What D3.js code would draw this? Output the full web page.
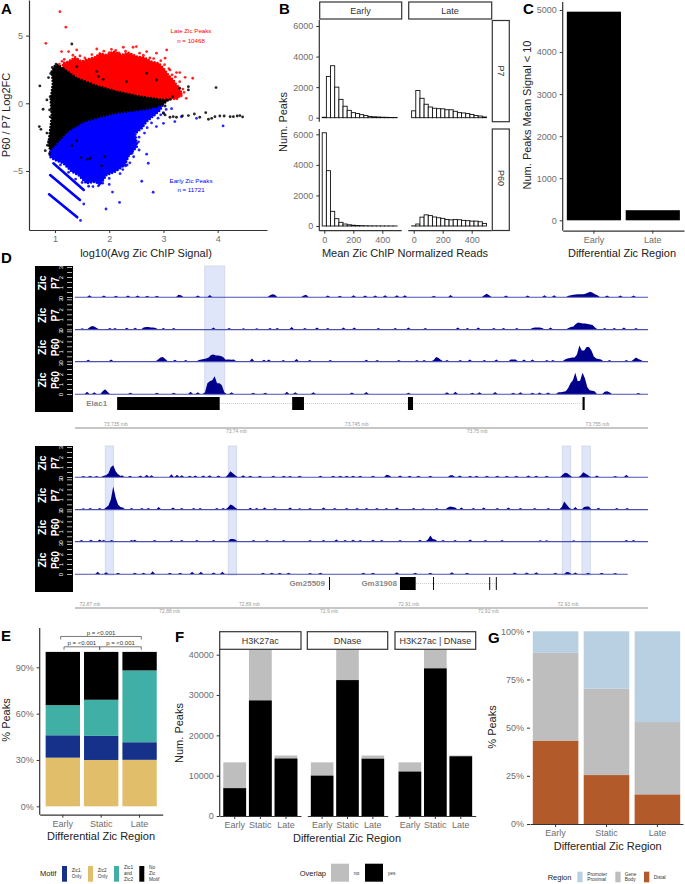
<!DOCTYPE html>
<html>
<head>
<meta charset="utf-8">
<script src="https://cdn.jsdelivr.net/npm/d3@7"></script>
<style>
  html, body { margin: 0; padding: 0; background: #fff; }
  svg { display: block; font-family: "Liberation Sans", Arial, sans-serif; }
</style>
</head>
<body>
<div id="figure"></div>
<script>
// ---- panel A: the dense cloud is kept as outlines, plus the stray points
let redCloud = [[1.14,2.59],[1.15,2.96],[1.25,3.08],[1.37,3.4],[1.49,3.08],[1.6,3.25],[1.74,3.4],[1.83,3.69],[1.95,3.57],[2.08,3.82],[2.23,3.57],[2.35,3.74],[2.51,3.45],[2.63,3.4],[2.78,3.08],[2.91,2.96],[3,2.59],[3.09,2.09],[3.18,1.72],[3.27,1.18],[3.34,0.74],[3.27,0.37],[3.15,0.3],[3,0.25],[2.57,0.49],[2.14,0.86],[1.77,1.28],[1.4,1.85]];
let blackCloud = [[1.14,2.59],[1.06,2.83],[1,2.78],[0.94,2.34],[0.96,1.48],[0.92,0.25],[0.94,-0.99],[0.91,-1.97],[0.88,-2.96],[0.91,-3.45],[0.97,-3.2],[1.22,-2.09],[1.52,-1.35],[1.83,-0.99],[2.14,-0.69],[2.44,-0.54],[2.75,-0.37],[3,-0.05],[3.09,0.25],[3,0.25],[2.57,0.49],[2.14,0.86],[1.77,1.28],[1.4,1.85]];
let blueCloud = [[0.91,-3.57],[0.9,-3.94],[1,-4.19],[1.15,-4.43],[1.31,-5.05],[1.43,-5.3],[1.58,-5.91],[1.74,-5.79],[1.83,-6.03],[1.95,-5.3],[2.11,-5.05],[2.29,-4.56],[2.35,-3.94],[2.51,-3.2],[2.48,-2.22],[2.6,-1.85],[2.69,-1.35],[2.84,-0.86],[2.94,-0.49],[3,-0.05],[2.75,-0.37],[2.44,-0.54],[2.14,-0.69],[1.83,-0.99],[1.52,-1.35],[1.22,-2.09],[0.97,-3.2]];
let blueStreaks = [[[0.97,-4.43],[1.53,-6.4]],[[0.91,-5.3],[1.46,-7.14]],[[0.89,-6.72],[1.41,-8.42]]];
let redPoints = [[1.09,6.77],[1.2,5.62],[0.83,4.43],[2.26,4.14],[2.44,4.14],[2.5,4.19],[2.04,3.99],[3.06,3.94],[1.4,3.94],[1.12,3.82],[1.25,3.82],[1.77,4.01],[2.69,3.82],[2.87,3.7],[3.03,3.33],[3.24,2.27],[3.3,2.27],[3.54,1.85],[3.4,1.92],[3.27,1.23],[3.42,0.37],[3.24,0.37],[3.21,0.74],[3.12,2.46],[3.06,1.97],[1.17,3.25],[1.33,3.55],[1.46,3.5],[1.55,3.35],[1.68,3.6],[1.9,3.85],[2,3.75],[2.12,3.9],[2.18,3.72],[2.3,3.85],[2.4,3.6],[2.56,3.7],[2.63,3.55],[2.75,3.35],[2.82,3.3],[2.95,3.15],[3.02,2.85],[3.1,2.55],[3.16,2.1],[3.22,1.95],[3.3,1.6],[3.36,1.05],[3.38,0.8],[3.33,0.55],[3.18,0.45],[1.08,2.9],[1.13,3.1]];
let bluePoints = [[4.1,-1.67],[3.61,-1.11],[3.33,-0.99],[3.21,-1.35],[3,-1.48],[2.87,-1.72],[2.69,-3.76],[2.72,-4.43],[2.6,-5.76],[2.81,-6.57],[2.19,-7.32],[2.06,-6.56],[1.94,-7.81],[1.53,-7.44],[1.47,-8.65],[2,-5.99],[1.83,-5.79],[1.8,-6.1],[1.62,-6.13],[2.51,-2.96],[2.54,-2.85],[2.42,-3.69],[2.33,-4.56],[2.3,-4.63],[2.16,-3.94],[1.7,-6.15],[1.88,-5.9],[2,-5.55],[2.2,-5.2],[2.25,-4.9],[2.38,-4.4],[2.45,-3.95],[2.55,-3.45],[2.55,-2.5],[2.65,-2.2],[2.7,-1.8],[2.78,-1.45],[2.9,-1.1],[3,-0.7],[3.05,-0.45],[3.15,-0.4],[2.95,-0.85],[1.38,-5.6],[1.5,-5.85],[1.25,-5.1],[1.1,-4.55]];
let blackPoints = [[0.72,1.28],[0.78,-0.44],[0.71,-1.72],[0.74,-1.92],[0.82,-3.5],[0.85,0.25],[0.91,0.49],[0.9,-0.49],[0.91,-1],[0.85,-2.2],[0.88,-2.83],[0.91,-3.2],[0.86,-3.1],[0.9,-3.7],[0.92,2.2],[0.88,1.9],[0.95,2.65],[1.02,2.9],[1.31,4.38],[3.03,-0.86],[3.12,-1.03],[3.18,-0.99],[3.24,-1.03],[3.35,-0.94],[3.46,-0.91],[3.57,-0.79],[3.67,-1.03],[3.78,-0.69],[3.83,-1.18],[3.89,-1.11],[3.95,-0.99],[4.04,-0.94],[4.12,-0.94],[4.23,-0.99],[4.29,-0.99],[4.36,-0.94],[4.41,-0.91],[4.46,-1.01],[3.97,1.16],[3.46,1.23],[3.46,0.99],[3.3,1.11],[3.17,0.49],[3.12,0.3],[3.03,-0.2],[2.87,-0.25],[3,-0.74],[1.8,1.97],[1.89,1.77],[2.32,1.6],[2.69,2.22],[2.87,1.72],[1.4,2.71],[1.77,2.34],[1.31,-3.13],[1.4,-2.76],[1.48,-4.01],[1.65,-4.06],[1.86,-4.63],[1.92,-3.94],[1.6,-4.14]];

// ---- panel B: histogram counts, one per bin
let histBinWidth = 28.7;
let earlyP7 = [30,2700,3400,2000,1200,750,480,330,270,200,140,80,60,45,30,25,15,10];
let lateP7 = [450,1780,1270,880,700,620,590,580,520,520,420,330,310,270,210,140,110,50];
let earlyP60 = [6100,3620,960,480,240,130,80,50,35,25,15,10,8,6,5,4,3,2];
let lateP60 = [10,130,580,730,680,590,540,500,430,400,430,410,370,350,320,320,280,170];

// ---- panel C
let lowSignalRegions = ["Early", "Late"];
let lowSignalPeaks = [4960, 240];

// ---- panel D: signal segments are [start kb, height, height, ...], one height per bin
let topBinKb = 0.1;
let topStartMb = 73.7333;
let topEndMb = 73.7571;
let topTicks = [73.735, 73.74, 73.745, 73.75, 73.755];
let topHighlights = [[73.73869, 73.73952]];
let topTrack1 = [[0.6,.1],[1.2,.08],[1.7,.05],[2.2,.07],[2.6,.08],[3,.05],[3.4,.05],[4.3,.15,.1],[5.1,.07],[5.6,.12],[8.1,.1,.2,.15],[9.5,.08,.15],[10.5,.07],[11,.05],[11.57,.1],[12.05,.08],[12.47,.07],[12.88,.1],[13.37,.1],[13.7,.1],[14.9,.05],[15.6,.12],[17,.1,.25,.1],[17.9,.08],[18.8,.07],[19.5,.1],[19.9,.1],[20.5,.05,.1,.15,.18,.2,.2,.2,.25,.35,.45,.35,.2,.1],[22.1,.08],[22.65,.08],[23.2,.07]];
let topTrack2 = [[0.3,.03],[0.6,.1,.25,.2,.05],[1.45,.07],[1.66,.05],[2.15,.08],[2.5,.08],[2.85,.1,.15,.15,.1,.1,.05],[3.67,.05],[4.1,.05],[5.75,.1],[6.4,.06],[7,.04],[7.55,.04],[8.1,.06],[8.4,.06],[9,.15],[9.55,.07],[10.05,.12],[10.5,.05],[11.15,.1],[11.6,.1],[12.6,.05],[13.3,.05],[13.85,.1],[14.55,.05],[15.9,.1],[16.3,.05],[16.75,.1],[17.4,.05],[17.8,.07],[18.35,.05],[19,.05,.1,.12,.1,.05],[19.75,.1],[20.5,.05,.15,.2,.45,.6,.55,.5,.5,.45,.4,.35,.1],[22,.06],[22.4,.06],[22.8,.1],[23.3,.05]];
let topTrack3 = [[0.55,.08],[1.5,.12],[3.45,.1,.3,.35,.15],[4.15,.08],[4.6,.05],[5.15,.05,.1,.15,.2,.3,.55,.6,.5,.5,.45,.35,.1],[6.3,.1,.1,.08,.1],[7.35,.2],[7.85,.08],[8.05,.1],[8.65,.05],[9.2,.15],[9.75,.05],[10.6,.05],[12.1,.08],[12.55,.05],[13.45,.05],[14.2,.05],[14.5,.05],[14.9,.05,.35,.25,.05],[15.45,.05],[16,.05],[16.4,.1],[17,.05],[17.5,.1],[18.1,.1,.12,.1],[18.65,.1],[19,.1],[19.6,.07],[19.85,.07],[20.35,.1,.2,.25,.3,.3,.6,1.5,1,1,1.35,1.35,1,.4,.2,.15,.1],[22.2,.06],[22.9,.05],[23.2,.1,.3,.15,.05]];
let topTrack4 = [[0.5,.15],[0.8,.1],[1.15,.2,.4,.15],[2.3,.06],[3.4,.06],[4.1,.05],[4.8,.15],[5.1,.1],[5.4,.1,1,1.2,1.3,1.7,1,1,.8,.1],[6.2,.06],[6.5,.1],[7.4,.05],[7.9,.06],[8.8,.15],[9.15,.1],[9.9,.1],[11.5,.08],[12.1,.12],[13.85,.05],[15.45,.1],[15.8,.15],[16.5,.06],[16.8,.1],[17.45,.12],[18.2,.05],[18.5,.1],[19,.06],[19.3,.08],[19.65,.07],[20.08,.1,.1,.15,.2,.5,1,1.3,2.05,1.2,1.25,2.05,1.5,.6,.3,.25,.2],[22,.15,.2,.1],[23.4,.04]];

let bottomBinKb = 0.3;
let bottomStartMb = 72.86812;
let bottomEndMb = 72.94004;
let bottomTicks = [72.87, 72.88, 72.89, 72.9, 72.91, 72.92, 72.93];
let bottomHighlights = [[72.87192, 72.87297], [72.88736, 72.88841], [72.92928, 72.93034], [72.93175, 72.9328]];
let bottomTrack1 = [[1.05,.04],[1.9,.05],[2.7,.04],[3.6,.05,.1,.3,.9,1.1,.5,.2,.05],[5.9,.1],[6.9,.05],[8.2,.08],[9,.15],[9.6,.1],[12.1,.2],[12.8,.15],[13.4,.1],[14.4,.06],[15.1,.08],[16.1,.08],[16.9,.1],[18,.08],[19.2,.15,.5,.3,.1],[21.1,.1],[22,.05],[23.2,.06],[24.9,.05],[26.2,.05],[27,.04],[28.2,.05],[30.8,.06],[32.4,.05],[33.3,.05],[34.1,.05],[34.9,.05],[35.8,.05],[37.4,.05],[39.1,.15,.1],[40.8,.08],[42,.05],[43.1,.06],[44.6,.05],[47.1,.1,.1],[48.3,.08],[49.6,.05],[50.4,.05],[51.7,.06],[53,.05],[54.2,.05],[55.4,.05],[56.9,.08],[57.9,.05],[59.2,.05],[61.2,.15,.35,.3,.1],[63.5,.1,.4,.25,.1],[65.5,.08],[67.8,.04],[69.2,.15]];
let bottomTrack2 = [[1.05,.04],[1.9,.05],[3.1,.05],[3.9,.1,.3,.9,2.2,1.1,.4,.15,.1],[5.9,.12],[7.1,.06],[8.4,.05],[9.2,.07],[10.5,.15],[12.3,.12],[13.4,.05],[14.9,.05],[15.7,.05],[17.8,.05],[18.6,.06],[19.2,.1,.4,.3,.1],[22,.08],[22.8,.06],[23.8,.1],[25.1,.06],[27,.1],[28.2,.04],[29.5,.05],[31.2,.1],[32.6,.05],[34.1,.05],[35.4,.05],[36.6,.05],[37.9,.06],[39.1,.06],[40.4,.1],[42.5,.05],[43.7,.04],[45.4,.05],[46.8,.1,.2,.15,.1],[48.5,.1],[50,.06],[51.3,.1],[53,.07],[54.4,.1],[55.9,.05],[57.7,.06],[59.4,.05],[61.1,.15,.7,.4,.1],[62.8,.15],[63.9,.15,.2,.2],[65.7,.08],[68,.05],[69.3,.06]];
let bottomTrack3 = [[.8,.05],[2,.08],[3.1,.1],[3.6,.05],[4.6,.05],[7.1,.07],[7.5,.08],[10,.05],[12.1,.05],[13.4,.05],[15.3,.05],[17.4,.05],[19.5,.15,.15,.1],[22.4,.05],[24.1,.05],[26.2,.05],[29.5,.07],[31.2,.06],[32.8,.1],[33.9,.05],[34.9,.08],[35.8,.06],[37.4,.08],[38.5,.05],[40.8,.05],[43.3,.08],[44.3,.1,.5,.15,.1],[46.2,.06],[47.7,.05],[49.6,.1],[51.5,.07],[53.6,.07],[58.4,.04],[59.2,.04],[62.6,.04],[69.2,.07],[70.1,.05]];
let bottomTrack4 = [[2.85,.15],[3.9,.1],[5.4,.06],[7.5,.06],[8.6,.05],[9.75,.2],[11.9,.05],[13.2,.05],[14.7,.15],[15.8,.15],[17.4,.08],[18.5,.15],[23.6,.05],[24.7,.05],[25.7,.06],[26.8,.05],[29.5,.04],[30.8,.05],[36.2,.06],[37.4,.06],[40.4,.1],[42.7,.06],[44.6,.05],[47.3,.1],[49.2,.06],[55.2,.08],[56.7,.08],[57.9,.1],[60.3,.05],[61.7,.12,.1],[62.8,.07],[64.4,.05],[66.1,.05],[67.8,.04]];

let trackNames = ["P7", "P7", "P60", "P60"];
let topTracks = [topTrack1, topTrack2, topTrack3, topTrack4];
let bottomTracks = [bottomTrack1, bottomTrack2, bottomTrack3, bottomTrack4];
let bottomTrackEnds = [72.94004, 72.94004, 72.94004, 72.93749];

let elac1Exons = [[73.73505,73.73931],[73.74232,73.74281],[73.74713,73.74734],[73.75438,73.75447]];
let gm25509Exons = [[72.9,72.90012]];
let gm31908Exons = [[72.90891,72.91088],[72.91306,72.91318],[72.92011,72.92023],[72.92094,72.92106]];

// ---- panel E
let regions = ["Early", "Static", "Late"];
let motifKeys = ["Zic2 Only", "Zic1 Only", "Zic1 and Zic2", "No Zic Motif"];
let zic2Only = [31.5, 30, 30.1];
let zic1Only = [14.5, 15.6, 11.4];
let zicBoth = [19.5, 23.4, 46.5];
let noMotif = [34.5, 31, 12];

// ---- panel F
let overlapMarks = ["H3K27ac", "DNase", "H3K27ac | DNase"];
let peaksTotal = [13300, 41300, 15000];
let h3k27acYes = [6900, 28650, 14250];
let dnaseYes = [10000, 33700, 14200];
let eitherYes = [11000, 36600, 14800];

// ---- panel G
let genomicKeys = ["Distal", "Gene Body", "Promoter Proximal"];
let distal = [43.3, 25.4, 15.4];
let geneBody = [45.5, 44.8, 37.5];
let promoter = [11.2, 29.8, 47.1];

let width = 685;
let height = 884;
let axisColor = "#333";
let tickColor = "#6e6e6e";
let titleColor = "#222";
let plainNumber = d3.format("d");

let svg = d3
  .select("#figure")
  .append("svg")
  .attr("width", width)
  .attr("height", height);

function label(parent, x, y, str, size, fill, anchor) {
  return parent
    .append("text")
    .attr("x", x)
    .attr("y", y)
    .attr("dy", "0.35em")
    .attr("text-anchor", anchor || "middle")
    .attr("font-size", size)
    .attr("fill", fill)
    .text(str);
}

function rotatedLabel(x, y, str, size, angle) {
  return svg
    .append("text")
    .attr("transform", `translate(${x},${y}) rotate(${angle})`)
    .attr("dy", "0.35em")
    .attr("text-anchor", "middle")
    .attr("font-size", size)
    .attr("fill", titleColor)
    .text(str);
}

function panelLetter(x, y, str) {
  label(svg, x, y, str, 15, "#000", "start").attr("font-weight", "bold");
}

// draws an axis with the ggplot classic look
function addAxis(axis, tx, ty) {
  let g = svg.append("g").attr("transform", `translate(${tx},${ty})`).call(axis);
  g.selectAll("text").attr("font-size", 9).attr("fill", tickColor);
  g.selectAll("line").attr("stroke", axisColor);
  g.select(".domain").attr("stroke", axisColor).attr("stroke-width", 1.2);
  return g;
}

function stripBox(x0, y0, x1, y1) {
  svg
    .append("rect")
    .attr("x", x0)
    .attr("y", y0)
    .attr("width", x1 - x0)
    .attr("height", y1 - y0)
    .attr("fill", "#fff")
    .attr("stroke", axisColor)
    .attr("stroke-width", 1.2);
}

// ---------- A ----------
let xA = d3.scaleLinear().domain([0.52, 4.91]).range([29, 267]);
let yA = d3.scaleLinear().domain([-9.36, 7.63]).range([230, 0]);
let cloudLine = d3.line().x(d => xA(d[0])).y(d => yA(d[1])).curve(d3.curveLinearClosed);

// the dotted stroke roughens the edge of each cloud so it reads as points
[[redCloud, "#ff0000"], [blueCloud, "#0000ff"], [blackCloud, "#000"]].forEach(c => {
  svg
    .append("path")
    .attr("d", cloudLine(c[0]))
    .attr("fill", c[1])
    .attr("stroke", c[1])
    .attr("stroke-width", 2.6)
    .attr("stroke-linecap", "round")
    .attr("stroke-dasharray", "0 3.1");
});

svg
  .selectAll(".streak")
  .data(blueStreaks)
  .join("line")
  .attr("x1", d => xA(d[0][0]))
  .attr("y1", d => yA(d[0][1]))
  .attr("x2", d => xA(d[1][0]))
  .attr("y2", d => yA(d[1][1]))
  .attr("stroke", "#0000ff")
  .attr("stroke-width", 2.6)
  .attr("stroke-linecap", "round");

[[redPoints, "#ff0000"], [bluePoints, "#0000ff"], [blackPoints, "#000"]].forEach(s => {
  svg
    .append("g")
    .selectAll("circle")
    .data(s[0])
    .join("circle")
    .attr("cx", d => xA(d[0]))
    .attr("cy", d => yA(d[1]))
    .attr("r", 1.4)
    .attr("fill", s[1])
    .attr("fill-opacity", 0.85);
});

addAxis(d3.axisLeft(yA).tickValues([-5, 0, 5]).tickSize(3).tickSizeOuter(0), 29, 0);
addAxis(d3.axisBottom(xA).tickValues([1, 2, 3, 4]).tickSize(3).tickSizeOuter(0).tickFormat(plainNumber), 0, 230);
label(svg, 146, 253, "log10(Avg Zic ChIP Signal)", 11, titleColor);
rotatedLabel(6, 115, "P60 / P7 Log2FC", 11, -90);
label(svg, 191, 31, "Late Zic Peaks", 6.2, "#ff0000");
label(svg, 191, 41, "n = 10468", 6.2, "#ff0000");
label(svg, 191, 181, "Early Zic Peaks", 6.2, "#0000ff");
label(svg, 191, 190, "n = 11721", 6.2, "#0000ff");
panelLetter(1, 9, "A");

// ---------- B ----------
let xEarly = d3.scaleLinear().domain([0, 400]).range([324.3, 382.3]);
let xLate = d3.scaleLinear().domain([0, 400]).range([413.7, 471.7]);
let yTop = d3.scaleLinear().domain([0, 6000]).range([117.7, 26]);
let yBottom = d3.scaleLinear().domain([0, 6000]).range([226, 134.3]);

function histogram(counts, x, y) {
  svg
    .append("g")
    .selectAll("rect")
    .data(counts)
    .join("rect")
    .attr("x", (d, i) => x((i - 0.5) * histBinWidth))
    .attr("width", x(histBinWidth) - x(0))
    .attr("y", d => y(d))
    .attr("height", d => y(0) - y(d))
    .attr("fill", "#fff")
    .attr("stroke", "#111")
    .attr("stroke-width", 0.9);
}
histogram(earlyP7, xEarly, yTop);
histogram(lateP7, xLate, yTop);
histogram(earlyP60, xEarly, yBottom);
histogram(lateP60, xLate, yBottom);

let histTicks = [0, 2000, 4000, 6000];
addAxis(d3.axisLeft(yTop).tickValues(histTicks).tickSize(3).tickSizeOuter(0).tickFormat(plainNumber), 319.3, 0)
  .select(".domain").attr("d", "M0,20V121.7");
addAxis(d3.axisLeft(yBottom).tickValues(histTicks).tickSize(3).tickSizeOuter(0).tickFormat(plainNumber), 319.3, 0)
  .select(".domain").attr("d", "M0,129V230.7");
addAxis(d3.axisBottom(xEarly).tickValues([0, 200, 400]).tickSize(3).tickSizeOuter(0), 0, 230.7)
  .select(".domain").attr("d", "M319.3,0H401.7");
addAxis(d3.axisBottom(xLate).tickValues([0, 200, 400]).tickSize(3).tickSizeOuter(0), 0, 230.7)
  .select(".domain").attr("d", "M408.3,0H491.7");

stripBox(319.7, 2, 401.7, 19);
stripBox(408.7, 2, 491.7, 19);
stripBox(492.3, 20.5, 509.3, 121.7);
stripBox(492.3, 129, 509.3, 230.5);
label(svg, 360.5, 11, "Early", 9, "#333");
label(svg, 450, 11, "Late", 9, "#333");
svg.append("text").attr("transform", "translate(501,71) rotate(90)").attr("dy", "0.35em").attr("text-anchor", "middle").attr("font-size", 9).attr("fill", "#333").text("P7");
svg.append("text").attr("transform", "translate(501,178) rotate(90)").attr("dy", "0.35em").attr("text-anchor", "middle").attr("font-size", 9).attr("fill", "#333").text("P60");
rotatedLabel(283.5, 122, "Num. Peaks", 11, -90);
label(svg, 405, 253, "Mean Zic ChIP Normalized Reads", 11, titleColor);
panelLetter(279, 9, "B");

// ---------- C ----------
let xC = d3.scaleBand().domain(lowSignalRegions).range([562.7, 684]).paddingInner(0.08).paddingOuter(0.07);
let yC = d3.scaleLinear().domain([0, 5000]).range([220.3, 10]);
svg
  .append("g")
  .selectAll("rect")
  .data(lowSignalPeaks)
  .join("rect")
  .attr("x", (d, i) => xC(lowSignalRegions[i]))
  .attr("width", xC.bandwidth())
  .attr("y", d => yC(d))
  .attr("height", d => yC(0) - yC(d))
  .attr("fill", "#000");
addAxis(d3.axisLeft(yC).tickValues([0, 1000, 2000, 3000, 4000, 5000]).tickSize(3).tickSizeOuter(0).tickFormat(plainNumber), 562.7, 0)
  .select(".domain").attr("d", "M0,2V230.7");
addAxis(d3.axisBottom(xC).tickSize(3).tickSizeOuter(0), 0, 230.7);
rotatedLabel(527, 115, "Num. Peaks Mean Signal < 10", 11, -90);
label(svg, 622, 253, "Differential Zic Region", 11, titleColor);
panelLetter(523, 9, "C");

// ---------- D ----------
function segmentPoints(segments, binKb) {
  let pts = [];
  segments.forEach(seg => {
    pts.push([seg[0] - binKb, 0]);
    seg.slice(1).forEach((h, i) => pts.push([seg[0] + i * binKb, h]));
    pts.push([seg[0] + (seg.length - 1) * binKb, 0]);
  });
  return pts;
}

function drawBrowser(cfg) {
  let x = d3.scaleLinear().domain([cfg.startMb, cfg.endMb]).range([75, 648]);
  let baselines = cfg.baselines;

  // black label column
  svg
    .append("rect")
    .attr("x", 35)
    .attr("y", baselines[0] - 31)
    .attr("width", 38)
    .attr("height", baselines[3] - baselines[0] + 49)
    .attr("fill", "#000");

  svg
    .append("g")
    .selectAll("rect")
    .data(cfg.highlights)
    .join("rect")
    .attr("x", d => x(d[0]))
    .attr("width", d => x(d[1]) - x(d[0]))
    .attr("y", baselines[0] - 31)
    .attr("height", baselines[3] - baselines[0] + 32)
    .attr("fill", "#e0e6f9")
    .attr("stroke", "#cfd5e6")
    .attr("stroke-width", 0.8);

  cfg.tracks.forEach((segments, t) => {
    let y = d3.scaleLinear().domain([0, 3]).range([baselines[t], baselines[t] - 30]);
    // small blips would vanish into the baseline, so lift them slightly
    let area = d3.area()
      .x(d => x(cfg.startMb + d[0] / 1000))
      .y0(y(0))
      .y1(d => y(d[1] > 0 ? d[1] + 0.07 : 0));
    svg.append("path").attr("d", area(segmentPoints(segments, cfg.binKb))).attr("fill", "#00008b");
    svg
      .append("line")
      .attr("x1", x(cfg.startMb))
      .attr("x2", x(cfg.trackEnds[t]))
      .attr("y1", y(0) + 0.3)
      .attr("y2", y(0) + 0.3)
      .attr("stroke", "#4b4fb5")
      .attr("stroke-width", 1.1);

    let axis = d3.axisLeft(y)
      .tickValues([0, 0.5, 1, 1.5, 2, 2.5, 3])
      .tickSize(5)
      .tickSizeOuter(0)
      .tickFormat(d => (Number.isInteger(d) ? d : ""));
    let g = svg.append("g").attr("transform", "translate(72,0)").call(axis);
    g.select(".domain").remove();
    g.selectAll("line").attr("stroke", "#ddd").attr("stroke-width", 0.8);
    g.selectAll("text")
      .attr("x", 0)
      .attr("dy", 0)
      .attr("text-anchor", "middle")
      .attr("font-size", 6)
      .attr("fill", "#fff")
      .attr("transform", "translate(-9,0) rotate(-90)");

    svg.append("text").attr("transform", `translate(42,${baselines[t] - 14}) rotate(-90)`)
      .attr("dy", "0.35em").attr("text-anchor", "middle").attr("font-size", 10.5)
      .attr("font-weight", "bold").attr("fill", "#fff").text("Zic");
    svg.append("text").attr("transform", `translate(55,${baselines[t] - 14}) rotate(-90)`)
      .attr("dy", "0.35em").attr("text-anchor", "middle").attr("font-size", 10)
      .attr("font-weight", "bold").attr("fill", "#fff").text(trackNames[t]);
  });

  // genes
  let geneY = baselines[3] + 3;
  cfg.genes.forEach(gene => {
    let first = gene.exons[0][0];
    let last = gene.exons[gene.exons.length - 1][1];
    svg.append("line").attr("x1", x(first)).attr("x2", x(last))
      .attr("y1", geneY + 6.5).attr("y2", geneY + 6.5)
      .attr("stroke", "#aaa").attr("stroke-width", 0.6).attr("stroke-dasharray", "1,1");
    svg.append("g").selectAll("rect").data(gene.exons).join("rect")
      .attr("x", d => x(d[0]))
      .attr("width", d => x(d[1]) - x(d[0]))
      .attr("y", geneY)
      .attr("height", 13)
      .attr("fill", "#000");
    label(svg, x(first) - gene.gap, geneY + 6.5, gene.name, 8, "#888", "end").attr("font-weight", "bold");
  });

  // genome axis
  svg.append("line").attr("x1", 75).attr("x2", 648)
    .attr("y1", cfg.axisY).attr("y2", cfg.axisY)
    .attr("stroke", "#b3b3b3").attr("stroke-width", 1.6);
  cfg.ticks.forEach((t, i) => {
    label(svg, x(t), cfg.axisY + (i % 2 ? 3.7 : -3.7), t + " mb", 5, "#999");
  });
}

drawBrowser({
  startMb: topStartMb,
  endMb: topEndMb,
  binKb: topBinKb,
  tracks: topTracks,
  trackEnds: [topEndMb, topEndMb, topEndMb, topEndMb],
  highlights: topHighlights,
  baselines: [297, 329.3, 361.3, 394],
  ticks: topTicks,
  axisY: 428,
  genes: [{ name: "Elac1", exons: elac1Exons, gap: 10 }]
});
drawBrowser({
  startMb: bottomStartMb,
  endMb: bottomEndMb,
  binKb: bottomBinKb,
  tracks: bottomTracks,
  trackEnds: bottomTrackEnds,
  highlights: bottomHighlights,
  baselines: [477, 509.3, 541.3, 574],
  ticks: bottomTicks,
  axisY: 608,
  genes: [{ name: "Gm25509", exons: gm25509Exons, gap: 4 }, { name: "Gm31908", exons: gm31908Exons, gap: 3 }]
});
panelLetter(1, 258, "D");

// ---------- E ----------
let motifColors = ["#e1be6a", "#15318a", "#40b0a6", "#000"];
let motifTable = regions.map((r, i) => ({
  region: r,
  "Zic2 Only": zic2Only[i],
  "Zic1 Only": zic1Only[i],
  "Zic1 and Zic2": zicBoth[i],
  "No Zic Motif": noMotif[i]
}));
let xE = d3.scaleBand().domain(regions).range([39.7, 162.7]).paddingInner(0.105).paddingOuter(0.155);
let yE = d3.scaleLinear().domain([0, 100]).range([806.3, 651.9]);

svg
  .append("g")
  .selectAll("g")
  .data(d3.stack().keys(motifKeys)(motifTable))
  .join("g")
  .attr("fill", (d, i) => motifColors[i])
  .selectAll("rect")
  .data(d => d)
  .join("rect")
  .attr("x", d => xE(d.data.region))
  .attr("width", xE.bandwidth())
  .attr("y", d => yE(d[1]))
  .attr("height", d => yE(d[0]) - yE(d[1]));

let pct = d => d + "%";
addAxis(d3.axisLeft(yE).tickValues([0, 30, 60, 90]).tickSize(3).tickSizeOuter(0).tickFormat(pct), 39.7, 0)
  .select(".domain").attr("d", "M0,628V814.7");
addAxis(d3.axisBottom(xE).tickSize(3).tickSizeOuter(0), 0, 814.7);
rotatedLabel(6, 720, "% Peaks", 11, -90);
label(svg, 101, 836, "Differential Zic Region", 11, titleColor);

// significance brackets, placed in the panel's own units
function bracket(x0, x1, level, str) {
  let top = yE(level);
  svg.append("path")
    .attr("d", `M${x0},${top + 3}V${top}H${x1}V${top + 3}`)
    .attr("fill", "none")
    .attr("stroke", "#555")
    .attr("stroke-width", 0.8);
  label(svg, (x0 + x1) / 2, top - 4, str, 6, "#333");
}
bracket(60.7, 141.3, 110, "p = <0.001");
bracket(64, 99.7, 103.3, "p = <0.001");
bracket(99.7, 141.3, 103.3, "p = <0.001");

label(svg, 40, 873, "Motif", 7.5, "#222", "start");
[
  [62, motifColors[1], ["Zic1", "Only"], 71.7],
  [88, motifColors[0], ["Zic2", "Only"], 97.7],
  [114, motifColors[2], ["Zic1", "and", "Zic2"], 124],
  [139.3, motifColors[3], ["No", "Zic", "Motif"], 149]
].forEach(k => {
  svg.append("rect").attr("x", k[0]).attr("y", 866).attr("width", 5).attr("height", 15.7).attr("fill", k[1]);
  k[2].forEach((line, i) => {
    label(svg, k[3], 873.8 + (i - (k[2].length - 1) / 2) * 6, line, 4.8, "#333", "start");
  });
});
panelLetter(1, 636, "E");

// ---------- F ----------
let yF = d3.scaleLinear().domain([0, 40000]).range([816, 654.7]);
let overlapYes = [h3k27acYes, dnaseYes, eitherYes];
let facetRanges = [[219.7, 301], [307.3, 387.7], [395, 475.7]];

overlapMarks.forEach((mark, f) => {
  let xF = d3.scaleBand().domain(regions).range(facetRanges[f]).paddingInner(0.11).paddingOuter(0.14);
  svg.append("g").selectAll("rect").data(peaksTotal).join("rect")
    .attr("x", (d, i) => xF(regions[i]))
    .attr("width", xF.bandwidth())
    .attr("y", d => yF(d))
    .attr("height", d => yF(0) - yF(d))
    .attr("fill", "#bebebe");
  svg.append("g").selectAll("rect").data(overlapYes[f]).join("rect")
    .attr("x", (d, i) => xF(regions[i]))
    .attr("width", xF.bandwidth())
    .attr("y", d => yF(d))
    .attr("height", d => yF(0) - yF(d))
    .attr("fill", "#000");
  addAxis(d3.axisBottom(xF).tickSize(3).tickSizeOuter(0), 0, 816);
  stripBox(facetRanges[f][0], 631.7, facetRanges[f][1], 649.3);
  label(svg, (facetRanges[f][0] + facetRanges[f][1]) / 2, 640.7, mark, 9, "#333");
});
addAxis(d3.axisLeft(yF).tickValues([0, 10000, 20000, 30000, 40000]).tickSize(3).tickSizeOuter(0).tickFormat(plainNumber), 219.7, 0)
  .select(".domain").attr("d", "M0,649.3V816");
rotatedLabel(179, 733, "Num. Peaks", 11, -90);
label(svg, 347, 838, "Differential Zic Region", 11, titleColor);
label(svg, 326, 873, "Overlap", 7.5, "#222", "end");
[[331, "#bebebe", "no", 353.7], [365, "#000", "yes", 387.7]].forEach(k => {
  svg.append("rect").attr("x", k[0]).attr("y", 863.7).attr("width", 18).attr("height", 18).attr("fill", k[1]);
  label(svg, k[3], 873, k[2], 5, "#333", "start");
});
panelLetter(175, 637, "F");

// ---------- G ----------
let genomicColors = ["#b35a2a", "#bebebe", "#b8d0e2"];
let genomicTable = regions.map((r, i) => ({
  region: r,
  "Distal": distal[i],
  "Gene Body": geneBody[i],
  "Promoter Proximal": promoter[i]
}));
let xG = d3.scaleBand().domain(regions).range([530, 683]).paddingInner(0.105).paddingOuter(0.055);
let yG = d3.scaleLinear().domain([0, 100]).range([824, 631.3]);

svg
  .append("g")
  .selectAll("g")
  .data(d3.stack().keys(genomicKeys)(genomicTable))
  .join("g")
  .attr("fill", (d, i) => genomicColors[i])
  .selectAll("rect")
  .data(d => d)
  .join("rect")
  .attr("x", d => xG(d.data.region))
  .attr("width", xG.bandwidth())
  .attr("y", d => yG(d[1]))
  .attr("height", d => yG(d[0]) - yG(d[1]));

addAxis(d3.axisLeft(yG).tickValues([0, 25, 50, 75, 100]).tickSize(3).tickSizeOuter(0).tickFormat(pct), 530, 0)
  .select(".domain").remove();
addAxis(d3.axisBottom(xG).tickSize(3).tickSizeOuter(0), 0, 824);
rotatedLabel(492, 727, "% Peaks", 11, -90);
label(svg, 607.7, 846, "Differential Zic Region", 11, titleColor);
label(svg, 547.7, 877, "Region", 7.5, "#222", "start");
[
  [577.3, genomicColors[2], ["Promoter", "Proximal"], 587.3],
  [615.3, genomicColors[1], ["Gene", "Body"], 624.7],
  [644, genomicColors[0], ["Distal"], 653.7]
].forEach(k => {
  svg.append("rect").attr("x", k[0]).attr("y", 871.7).attr("width", 5.3).attr("height", 10.6).attr("fill", k[1]);
  k[2].forEach((line, i) => {
    label(svg, k[3], 877 + (i - (k[2].length - 1) / 2) * 5.5, line, 4.8, "#333", "start");
  });
});
panelLetter(488, 638, "G");
</script>
</body>
</html>
